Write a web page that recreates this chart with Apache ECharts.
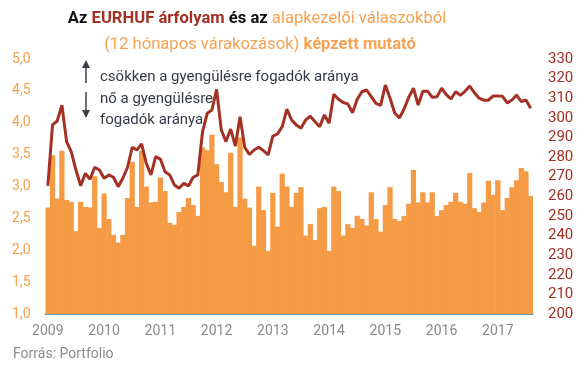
<!DOCTYPE html>
<html>
<head>
<meta charset="utf-8">
<script src="https://cdn.jsdelivr.net/npm/echarts@6/dist/echarts.min.js"></script>
<style>html,body{margin:0;padding:0;background:#fff}#c{width:587px;height:386px}</style>
</head>
<body>
<div id="c"></div>
<script>
var years = ['2009','2010','2011','2012','2013','2014','2015','2016','2017'];
var monthCount = 104; // Jan 2009 .. Aug 2017
var leftTicks = {min: 1, max: 5, interval: 0.5};
var rightTicks = {min: 200, max: 330, interval: 10};

// Alapkezelői mutató (bars, left axis)
var fundIndex = [
 2.67,3.49,2.81,3.56,2.79,2.76,2.30,2.76,2.68,2.67,3.16,2.35,
 2.89,2.49,2.24,2.12,2.24,2.82,3.39,2.68,3.56,3.00,2.75,2.76,
 3.14,2.93,2.43,2.40,2.60,2.68,2.82,2.71,2.54,3.61,3.57,3.81,
 3.35,3.07,2.91,3.53,2.68,3.77,2.81,2.67,2.07,3.00,2.63,1.99,
 2.90,2.37,3.20,3.00,2.68,2.90,2.99,2.23,2.41,2.16,2.66,2.68,
 1.99,3.00,2.93,2.23,2.41,2.35,2.54,2.49,2.39,2.91,2.49,2.29,
 2.71,2.99,2.49,2.46,2.54,2.73,3.26,2.75,2.91,2.75,2.91,2.54,
 2.63,2.71,2.76,2.90,2.76,2.73,3.21,2.66,2.60,2.75,3.09,2.87,
 3.10,2.63,2.82,2.99,3.10,3.29,3.24,2.85
];
// EURHUF árfolyam (line, right axis)
var eurhuf = [
 265.3,296.4,298.4,306.5,287.9,282.7,273.4,265.4,271.7,268.7,274.8,273.4,
 269.2,270.9,269.7,264.9,269.2,274.8,285.0,283.6,286.7,276.8,270.9,280.2,
 279.0,272.5,270.9,265.8,264.1,266.6,265.3,269.7,270.9,292.9,302.3,304.0,
 314.5,293.8,287.9,294.3,285.6,300.6,285.0,281.4,283.6,285.0,283.3,281.1,
 290.7,291.8,295.5,304.4,298.9,296.4,294.7,298.9,300.9,298.0,295.5,301.5,
 297.2,312.0,309.5,307.8,307.1,302.6,309.5,313.3,314.2,310.8,307.4,306.4,
 316.7,310.0,302.5,300.0,304.5,310.5,315.1,306.5,313.6,313.6,310.5,310.7,
 315.1,311.8,309.6,313.3,311.5,313.5,316.2,312.8,310.0,309.0,309.0,311.2,
 311.2,311.0,307.6,309.1,311.6,308.3,309.1,304.9
];

var categories = [];
for (var i = 0; i < monthCount; i++) {
  var y = years[Math.floor(i / 12)];
  var m = (i % 12) + 1;
  categories.push(y + '-' + (m < 10 ? '0' + m : m));
}

var ORANGE = '#F59B45';
var RED = '#A33125';
var TXT = '#353b45';
var TFS = 16.6;

var chart = echarts.init(document.getElementById('c'), null, {renderer: 'canvas'});
chart.setOption({
  animation: false,
  grid: {left: 45.5, right: 54, top: 59, bottom: 72, containLabel: false},
  xAxis: {
    type: 'category',
    data: categories,
    boundaryGap: true,
    axisTick: {show: false},
    axisLine: {lineStyle: {color: '#1f7a8a', width: 1.5}},
    axisLabel: {
      interval: function (idx) { return idx % 12 === 0; },
      formatter: function (v) { return v.slice(0, 4); },
      color: '#8a8a8a', fontFamily: 'Roboto', fontSize: 14, margin: 10
    }
  },
  yAxis: [{
    type: 'value', min: leftTicks.min, max: leftTicks.max, interval: leftTicks.interval,
    position: 'left',
    splitLine: {show: false}, axisLine: {show: false}, axisTick: {show: false},
    axisLabel: {
      color: '#F5A04B', fontFamily: 'Roboto', fontSize: 14, margin: 15,
      formatter: function (v) { return v.toFixed(1).replace('.', ','); }
    }
  }, {
    type: 'value', min: rightTicks.min, max: rightTicks.max, interval: rightTicks.interval,
    position: 'right',
    splitLine: {show: false}, axisLine: {show: false}, axisTick: {show: false},
    axisLabel: {color: RED, fontFamily: 'Roboto', fontSize: 15, margin: 15}
  }],
  series: [{
    type: 'bar', data: fundIndex, yAxisIndex: 0,
    barWidth: '112%', itemStyle: {color: ORANGE}
  }, {
    type: 'line', data: eurhuf, yAxisIndex: 1,
    showSymbol: false, symbol: 'none',
    lineStyle: {color: RED, width: 3}, z: 3
  }],
  graphic: [
    {type: 'text', x: 257, y: 19, style: {
      text: '{k|Az }{r|EURHUF árfolyam}{k| és az }{o|alapkezelői válaszokból}',
      align: 'center', verticalAlign: 'middle',
      rich: {
        k: {fontFamily: 'Roboto', fontWeight: 'bold', fontSize: TFS, fill: '#111111'},
        r: {fontFamily: 'Roboto', fontWeight: 'bold', fontSize: TFS, fill: RED},
        o: {fontFamily: 'Roboto', fontSize: TFS, fill: '#F7A253'}
      }
    }},
    {type: 'text', x: 260, y: 45, style: {
      text: '{o|(12 hónapos várakozások) }{ob|képzett mutató}',
      align: 'center', verticalAlign: 'middle',
      rich: {
        o: {fontFamily: 'Roboto', fontSize: TFS, fill: '#F7A253'},
        ob: {fontFamily: 'Roboto', fontWeight: 'bold', fontSize: TFS, fill: '#F7A253'}
      }
    }},
    {type: 'text', x: 100, y: 77, style: {text: 'csökken a gyengülésre fogadók aránya', fontFamily: 'Roboto', fontSize: 15, fill: TXT, verticalAlign: 'middle'}},
    {type: 'text', x: 100, y: 99, style: {text: 'nő a gyengülésre', fontFamily: 'Roboto', fontSize: 15, fill: TXT, verticalAlign: 'middle'}},
    {type: 'text', x: 100, y: 120, style: {text: 'fogadók aránya', fontFamily: 'Roboto', fontSize: 15, fill: TXT, verticalAlign: 'middle'}},
    {type: 'line', shape: {x1: 86, y1: 66, x2: 86, y2: 83}, style: {stroke: '#3a3f47', lineWidth: 1.5}},
    {type: 'polygon', shape: {points: [[86, 60], [82, 68], [90, 68]]}, style: {fill: '#3a3f47'}},
    {type: 'line', shape: {x1: 86, y1: 92, x2: 86, y2: 112}, style: {stroke: '#3a3f47', lineWidth: 1.5}},
    {type: 'polygon', shape: {points: [[86, 118], [82, 110], [90, 110]]}, style: {fill: '#3a3f47'}},
    {type: 'text', x: 13, y: 354, style: {text: 'Forrás: Portfolio', fontFamily: 'Roboto', fontSize: 14, fill: '#8c8c8c', verticalAlign: 'middle'}}
  ]
});
</script>
</body>
</html>
